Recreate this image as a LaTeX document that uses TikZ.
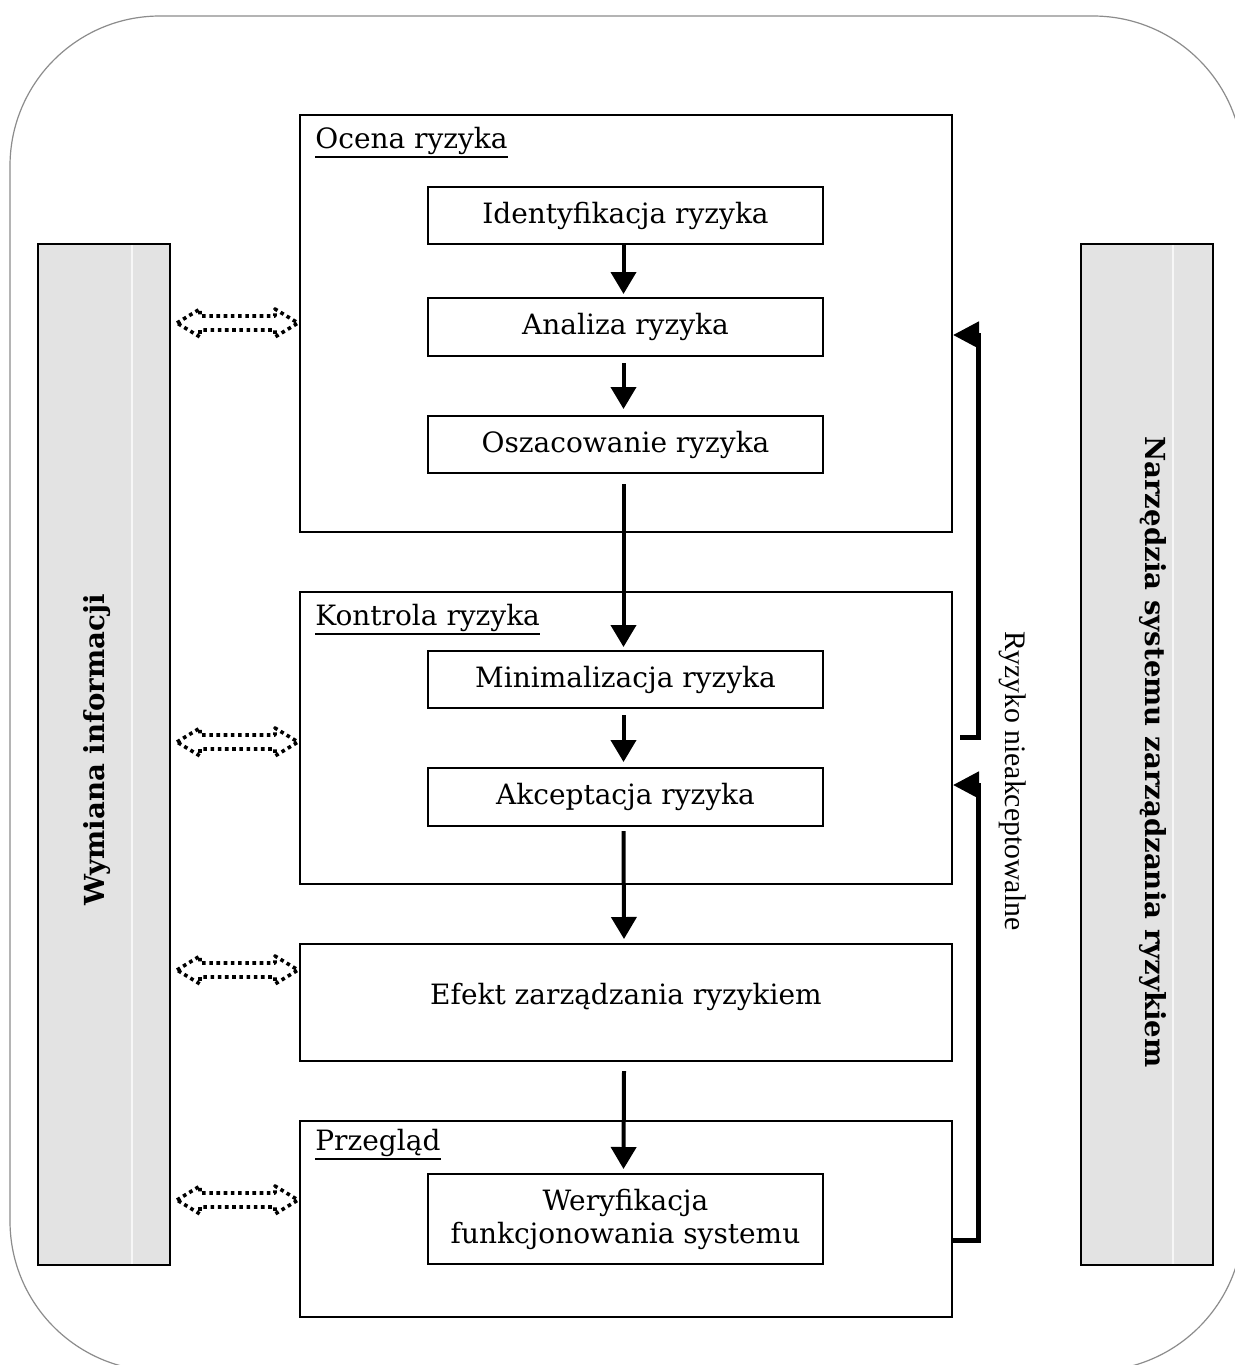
\documentclass[tikz,border=0pt]{standalone}
\usepackage{fontspec}
\setmainfont{DejaVu Serif}
\newfontfamily\timesf{Liberation Serif}
\usetikzlibrary{arrows.meta,calc}
\tikzset{
  frame/.style={draw, line width=1pt, minimum width=326pt, inner sep=0pt},
  inbox/.style={draw, line width=1pt, minimum width=197.5pt, inner sep=0pt, font=\fontsize{14}{16.5}\selectfont, align=center},
  title/.style={inner sep=0pt, font=\fontsize{14}{16}\selectfont},
  uline/.style={line width=0.9pt},
  sidebar/.style={draw, line width=1.2pt, fill=black!11, minimum width=66pt, minimum height=510.5pt, inner sep=0pt},
  sidetext/.style={font=\bfseries\fontsize{13.8}{16}\selectfont, inner sep=0pt},
  arr/.style={line width=2pt, -{Triangle[length=11pt,width=12.5pt]}},
  fb/.style={line width=2.5pt, -{Triangle[length=13pt,width=13pt]}},
  infoarrow/.style={line width=1.8pt, dash pattern=on 1.8pt off 1.8pt, line join=round},
  outer/.style={draw=black!45, line width=0.6pt, rounded corners=75pt}
}
\newcommand\infoarr[1]{\draw[infoarrow] (#1) -- ++(23,-14) -- ++(0,7) -- ++(75,0) -- ++(0,-7) -- ++(23,14) -- ++(-23,14) -- ++(0,-7) -- ++(-75,0) -- ++(0,7) -- cycle;}
\begin{document}
\begin{tikzpicture}[x=0.5pt,y=-0.5pt]
\useasboundingbox (0,0) rectangle (1235,1365);
\clip (0,0) rectangle (1235,1365);
\fill[white] (0,0) rectangle (1235,1365);
\draw[outer] (10,16) rectangle (1243,1371);

% side bars
\node[sidebar] (left) at (104,754.5) {};
\draw[white!70!black!11, line width=0.6pt] (132,245) -- (132,1264);
\node[sidetext, rotate=90] (lefttext) at (97,750) {Wymiana informacji};
\node[sidebar] (right) at (1147,754.5) {};
\draw[white!70!black!11, line width=0.6pt] (1173,245) -- (1173,1264);
\node[sidetext, rotate=-90] (righttext) at (1153,752) {Narzędzia systemu zarządzania ryzykiem};

% Ocena ryzyka
\node[frame, minimum height=208.5pt] (ocena) at (626,323.5) {};
\node[title, anchor=base west] (ocenaT) at (315,148) {Ocena ryzyka};
\draw[uline] ([yshift=-1.2pt]ocenaT.south west) -- ([yshift=-1.2pt]ocenaT.south east);
\node[inbox, minimum height=28.5pt] (ident) at (625.5,215.5) {Identyfikacja ryzyka};
\node[inbox, minimum height=29pt] (analiza) at (625.5,327) {Analiza ryzyka};
\node[inbox, minimum height=28.5pt] (oszac) at (625.5,444.5) {Oszacowanie ryzyka};

% Kontrola ryzyka
\node[frame, minimum height=146pt] (kontrola) at (626,738) {};
\node[title, anchor=base west] (kontrolaT) at (315,625) {Kontrola ryzyka};
\draw[uline] ([yshift=-1.2pt]kontrolaT.south west) -- ([yshift=-1.2pt]kontrolaT.south east);
\node[inbox, minimum height=28.5pt] (minimal) at (625.5,679.5) {Minimalizacja ryzyka};
\node[inbox, minimum height=29pt] (akcept) at (625.5,797) {Akceptacja ryzyka};

% Efekt
\node[frame, minimum height=58.5pt] (efekt) at (626,1002.5) {};
\node[title] (efektT) at (626,997) {Efekt zarządzania ryzykiem};

% Przeglad
\node[frame, minimum height=98pt] (przeglad) at (626,1219) {};
\node[title, anchor=base west] (przegladT) at (315,1150) {Przegląd};
\draw[uline] ([yshift=-1.2pt]przegladT.south west) -- ([yshift=-1.2pt]przegladT.south east);
\node[inbox, minimum height=45pt] (weryf) at (625.5,1219) {Weryfikacja\\funkcjonowania systemu};

% main arrows
\draw[arr] ([xshift=-1pt]ident.south) -- ([xshift=-1pt,yshift=1.5pt]analiza.north);
\draw[arr] ([xshift=-1pt,yshift=-3pt]analiza.south) -- ([xshift=-1pt,yshift=3pt]oszac.north);
\draw[arr] ([xshift=-1pt,yshift=-5pt]oszac.south) -- ([xshift=-1pt,yshift=1.5pt]minimal.north);
\draw[arr] ([xshift=-1pt,yshift=-3pt]minimal.south) -- ([xshift=-1pt,yshift=2.5pt]akcept.north);
\draw[arr] ([xshift=-1pt,yshift=-2pt]akcept.south) -- ([xshift=-1pt,yshift=2pt]efekt.north);
\draw[arr] ([xshift=-1pt,yshift=-4.5pt]efekt.south) -- ([xshift=-1pt,yshift=2pt]weryf.north);

% feedback arrows
\coordinate (fb1s) at (960,737);
\coordinate (fb1t) at (978,335);
\draw[fb] (fb1s) -| (fb1t) -- (fb1t -| ocena.east);
\coordinate (fb2s) at (952,1240);
\coordinate (fb2t) at (978,785);
\draw[fb] (fb2s) -| (fb2t) -- (fb2t -| kontrola.east);
\node[rotate=-90, inner sep=0pt, font=\timesf\fontsize{14.9}{16}\selectfont] (ryz) at (1013,781) {Ryzyko nieakceptowalne};

% information exchange arrows
\coordinate (ia1) at (177,323);
\coordinate (ia2) at (177,742);
\coordinate (ia3) at (177,970);
\coordinate (ia4) at (177,1200);
\infoarr{ia1}
\infoarr{ia2}
\infoarr{ia3}
\infoarr{ia4}
\end{tikzpicture}
\end{document}
